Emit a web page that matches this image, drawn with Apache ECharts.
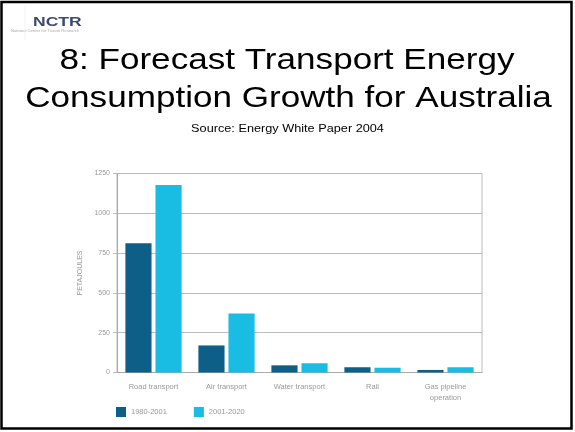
<!DOCTYPE html>
<html><head><meta charset="utf-8">
<script src="https://cdn.jsdelivr.net/npm/echarts@6/dist/echarts.min.js"></script>
<style>html,body{margin:0;padding:0;background:#fff}#c{width:575px;height:432px}</style>
</head><body><div id="c"></div>
<script>
var titleLines = ['8: Forecast Transport Energy', 'Consumption Growth for Australia'];
var subtitle = 'Source: Energy White Paper 2004';
var categories = ['Road transport', 'Air transport', 'Water transport', 'Rail', 'Gas pipeline\noperation'];
var seriesNames = ['1980-2001', '2001-2020'];
var values1980 = [812, 170, 45, 33, 16];
var values2001 = [1178, 370, 58, 30, 33];
var yTicks = [0, 250, 500, 750, 1000, 1250];

var F = 'Liberation Sans, Arial, sans-serif';
var SX = 1.21;
var chart = echarts.init(document.getElementById('c'));
chart.setOption({
  backgroundColor: '#fff',
  animation: false,
  graphic: [
    { type: 'rect', shape: { x: 1.5, y: 2, width: 570, height: 426.5 }, style: { fill: 'none', stroke: '#000', lineWidth: 2.5 }, z: 100 },
    { type: 'text', x: 33, y: 16.5, scaleX: 1.4, style: { text: 'NCTR', font: 'bold 12.5px ' + F, fill: '#3d4a6e' } },
    { type: 'text', x: 11, y: 29.5, scaleX: 1.2, style: { text: 'National Center for Transit Research', font: '3.5px ' + F, fill: '#aaa' } },
    { type: 'line', shape: { x1: 25, y1: 5, x2: 25, y2: 40 }, style: { stroke: '#f0f0f0', lineWidth: 0.8 } },
    { type: 'text', x: 287, y: 61, scaleX: SX, style: { text: titleLines[0], font: '29px ' + F, fill: '#000', align: 'center', verticalAlign: 'middle' } },
    { type: 'text', x: 288.5, y: 98.7, scaleX: SX, style: { text: titleLines[1], font: '29px ' + F, fill: '#000', align: 'center', verticalAlign: 'middle' } },
    { type: 'text', x: 287.5, y: 129, scaleX: SX, style: { text: subtitle, font: '10.5px ' + F, fill: '#000', align: 'center', verticalAlign: 'middle' } }
  ],
  legend: {
    data: seriesNames, left: 111, top: 402, itemWidth: 10, itemHeight: 10, itemGap: 27,
    icon: 'rect',
    textStyle: { fontFamily: F, fontSize: 7.5, color: '#999' }
  },
  grid: { left: 117, right: 93, top: 173.5, bottom: 59.5, show: true, borderColor: '#bbb', borderWidth: 1 },
  xAxis: {
    type: 'category', data: categories,
    axisLine: { lineStyle: { color: '#aaa' } },
    axisTick: { show: false },
    axisLabel: { fontFamily: F, fontSize: 7.5, color: '#999', margin: 9, lineHeight: 11 }
  },
  yAxis: {
    type: 'value', min: yTicks[0], max: yTicks[yTicks.length - 1], interval: 250,
    name: 'PETAJOULES', nameLocation: 'middle', nameGap: 30, nameRotate: 90,
    nameTextStyle: { fontFamily: F, fontSize: 7, color: '#999' },
    axisLine: { show: true, lineStyle: { color: '#aaa' } },
    axisTick: { show: true, length: 4, lineStyle: { color: '#bbb' } },
    splitLine: { lineStyle: { color: '#bbb', width: 1 } },
    axisLabel: { fontFamily: F, fontSize: 7, color: '#999', margin: 7, formatter: function (v) { return String(v); } }
  },
  series: [
    { name: seriesNames[0], type: 'bar', data: values1980, barGap: '15%', barCategoryGap: '23%', itemStyle: { color: '#0d5f87' } },
    { name: seriesNames[1], type: 'bar', data: values2001, itemStyle: { color: '#19bde3' } }
  ]
});
</script></body></html>
